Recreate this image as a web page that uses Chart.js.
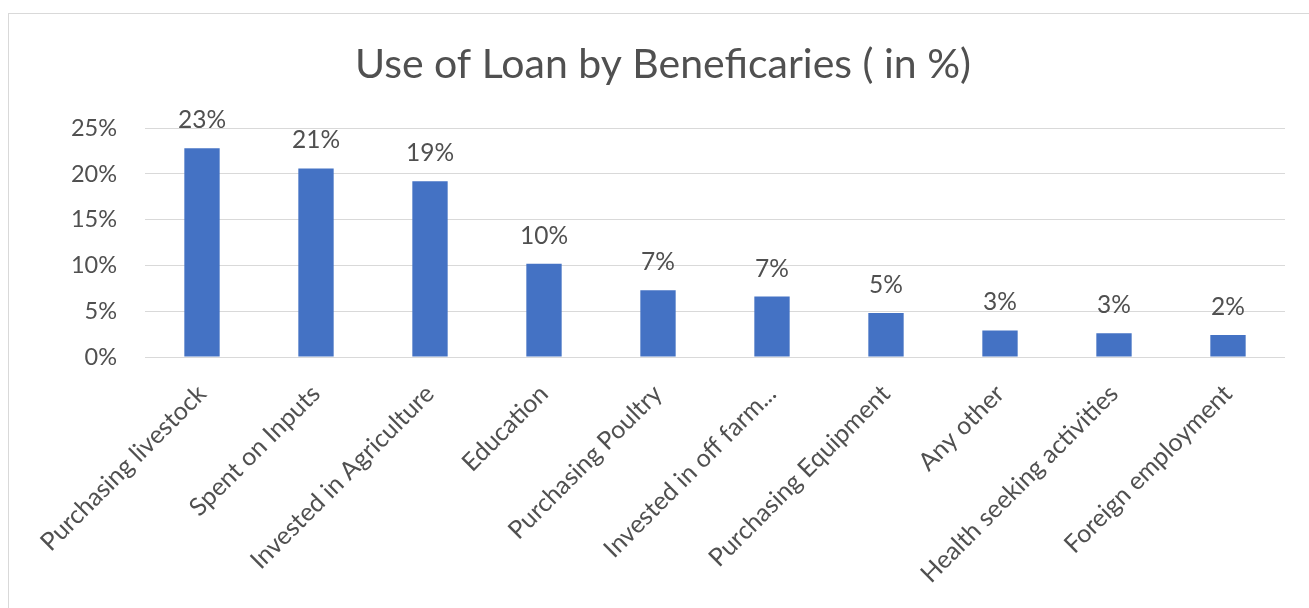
<!DOCTYPE html>
<html>
<head>
<meta charset="utf-8">
<script src="https://cdn.jsdelivr.net/npm/chart.js@4"></script>
<style>
  html, body { margin: 0; padding: 0; background: #ffffff; overflow: hidden; }
  #frame {
    position: absolute; left: 8px; top: 13px;
    width: 1308px; height: 595px;
    border-left: 1px solid #d9d9d9; border-top: 1px solid #d9d9d9;
    background: #ffffff;
  }
  #chart { display: block; }
</style>
</head>
<body>
<div id="frame"><canvas id="chart" width="1308" height="595"></canvas></div>
<script>
// Loan use categories and share of beneficiaries (%)
const categories = [
  'Purchasing livestock',
  'Spent on Inputs',
  'Invested in Agriculture',
  'Education',
  'Purchasing Poultry',
  'Invested in off farm...',
  'Purchasing Equipment',
  'Any other',
  'Health seeking activities',
  'Foreign employment'
];
const shares = [22.8, 20.6, 19.2, 10.2, 7.3, 6.6, 4.8, 2.9, 2.6, 2.4];
const yTicks = [0, 5, 10, 15, 20, 25];

const FONT = 'Lato, "Open Sans", sans-serif';
const TEXT = '#505050';

// Writes the rounded percentage above every bar
const barValueLabels = {
  id: 'barValueLabels',
  afterDatasetsDraw(chart) {
    const { ctx } = chart;
    const meta = chart.getDatasetMeta(0);
    const values = chart.data.datasets[0].data;
    ctx.save();
    ctx.font = '24.5px ' + FONT;
    ctx.fillStyle = TEXT;
    ctx.textAlign = 'center';
    ctx.textBaseline = 'middle';
    meta.data.forEach((bar, i) => {
      ctx.fillText(Math.round(values[i]) + '%', bar.x, bar.y - 28);
    });
    ctx.restore();
  }
};

new Chart(document.getElementById('chart'), {
  type: 'bar',
  data: {
    labels: categories,
    datasets: [{
      data: shares,
      backgroundColor: '#4472C4',
      borderWidth: 0,
      barPercentage: 0.31,
      categoryPercentage: 1
    }]
  },
  options: {
    responsive: false,
    animation: false,
    layout: { padding: { top: 0, right: 32, bottom: 0, left: 32 } },
    plugins: {
      legend: { display: false },
      tooltip: { enabled: false },
      title: {
        display: true,
        text: 'Use of Loan by Beneficaries ( in %)',
        color: TEXT,
        font: { family: FONT, size: 41, weight: 'normal' },
        padding: { top: 26, bottom: 39 }
      }
    },
    scales: {
      x: {
        grid: { display: false },
        border: { display: false },
        ticks: {
          color: TEXT,
          font: { family: FONT, size: 25 },
          minRotation: 45,
          maxRotation: 45,
          autoSkip: false,
          padding: 14
        },
        afterFit(scale) { scale.height = 252; }
      },
      y: {
        min: 0,
        max: 25,
        afterBuildTicks(scale) { scale.ticks = yTicks.map(v => ({ value: v })); },
        grid: { color: '#d9d9d9', lineWidth: 1, drawTicks: false },
        border: { display: false },
        ticks: {
          color: TEXT,
          font: { family: FONT, size: 23.5 },
          padding: 28,
          callback: v => v + '%'
        },
        afterFit(scale) { scale.width = 104; }
      }
    }
  },
  plugins: [barValueLabels]
});
</script>
</body>
</html>
